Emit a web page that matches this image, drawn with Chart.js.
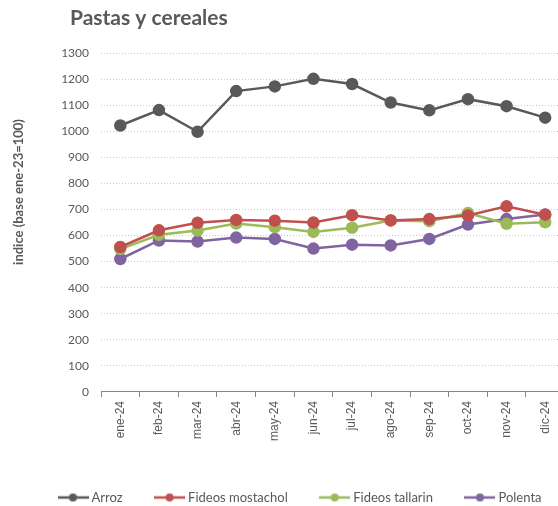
<!DOCTYPE html>
<html>
<head>
<meta charset="utf-8">
<script src="https://cdn.jsdelivr.net/npm/chart.js@4/dist/chart.umd.min.js"></script>
<style>
  body { margin: 0; background: #fff; overflow: hidden; }
  #wrap { width: 558px; height: 506px; overflow: hidden; }
</style>
</head>
<body>
<div id="wrap"><canvas id="myChart" width="572" height="506"></canvas></div>
<script>
const meses = ['ene-24', 'feb-24', 'mar-24', 'abr-24', 'may-24', 'jun-24',
  'jul-24', 'ago-24', 'sep-24', 'oct-24', 'nov-24', 'dic-24'];

const arroz = [1022, 1081, 998, 1154, 1172, 1201, 1181, 1110, 1080, 1123, 1096, 1052];
const mostachol = [556, 620, 649, 660, 657, 650, 678, 658, 663, 677, 712, 680];
const tallarin = [548, 603, 619, 646, 632, 614, 630, 658, 655, 686, 645, 651];
const polenta = [510, 581, 577, 592, 587, 550, 565, 562, 587, 642, 663, 681];

const titulo = 'Pastas y cereales';
const tituloY = 'indice (base ene-23=100)';

// marcador de la leyenda: linea corta con un punto
function marcador(color) {
  const c = document.createElement('canvas');
  c.width = 31; c.height = 12;
  const g = c.getContext('2d');
  g.strokeStyle = color;
  g.lineWidth = 2.5;
  g.beginPath();
  g.moveTo(0, 6); g.lineTo(31, 6);
  g.stroke();
  g.fillStyle = color;
  g.beginPath();
  g.arc(15.5, 6, 4, 0, Math.PI * 2);
  g.fill();
  return c;
}

function serie(label, valores, color) {
  return {
    label: label,
    data: valores,
    borderColor: color,
    backgroundColor: color,
    borderWidth: 2.5,
    pointRadius: 5,
    pointHoverRadius: 5,
    tension: 0
  };
}

const textos = {
  id: 'textos',
  afterLayout: (chart) => {
    // mover la leyenda
    chart.legend.top += 8;
    chart.legend.bottom += 8;
    chart.legend.left += 26;
    chart.legend.right += 60;
  },
  afterDraw: (chart) => {
    const {ctx} = chart;
    ctx.save();
    ctx.fillStyle = '#595959';
    ctx.font = 'bold 21px Lato';
    ctx.textBaseline = 'middle';
    ctx.fillText(titulo, 70, 18);
    ctx.translate(19, 192);
    ctx.rotate(-Math.PI / 2);
    ctx.textAlign = 'center';
    ctx.font = 'bold 13px Lato';
    ctx.fillText(tituloY, 0, 0);
    ctx.restore();
  }
};

const data = {
  labels: meses,
  datasets: [
    serie('Arroz', arroz, '#595959'),
    serie('Fideos mostachol', mostachol, '#C0504D'),
    serie('Fideos tallarin', tallarin, '#9BBB59'),
    serie('Polenta', polenta, '#8064A2')
  ]
};

const config = {
  type: 'line',
  data: data,
  options: {
    responsive: false,
    animation: false,
    layout: { padding: { top: 53, left: 0, right: 0, bottom: 0 } },
    scales: {
      y: {
        min: 0,
        max: 1300,
        ticks: {
          stepSize: 100, color: '#595959', font: { family: 'Lato', size: 12 }, padding: 12,
          callback: (v) => String(v)
        },
        grid: { color: '#c8c8c8', drawTicks: false, lineWidth: 1 },
        border: { display: false, dash: [1, 2] },
        afterFit: (s) => { s.height += 0; s.width = 101; }
      },
      x: {
        offset: true,
        ticks: { color: '#595959', font: { family: 'Liberation Sans', size: 12 }, minRotation: 90, maxRotation: 90, padding: 4 },
        grid: { offset: true, drawOnChartArea: false, drawTicks: true, tickLength: 5, color: '#868686' },
        border: { color: '#868686', width: 1 },
        afterFit: (s) => { s.height += 3; }
      }
    },
    plugins: {
      legend: {
        position: 'bottom',
        align: 'start',
        labels: {
          usePointStyle: true,
          pointStyleWidth: 24,
          color: '#595959',
          font: { family: 'Lato', size: 13 },
          padding: 35,
          generateLabels: (chart) => {
            const items = Chart.defaults.plugins.legend.labels.generateLabels(chart);
            items.forEach((it, i) => { it.pointStyle = marcador(chart.data.datasets[i].borderColor); });
            return items;
          }
        }
      },
      tooltip: { enabled: false }
    }
  },
  plugins: [textos]
};

const myChart = new Chart(document.getElementById('myChart'), config);
</script>
</body>
</html>
